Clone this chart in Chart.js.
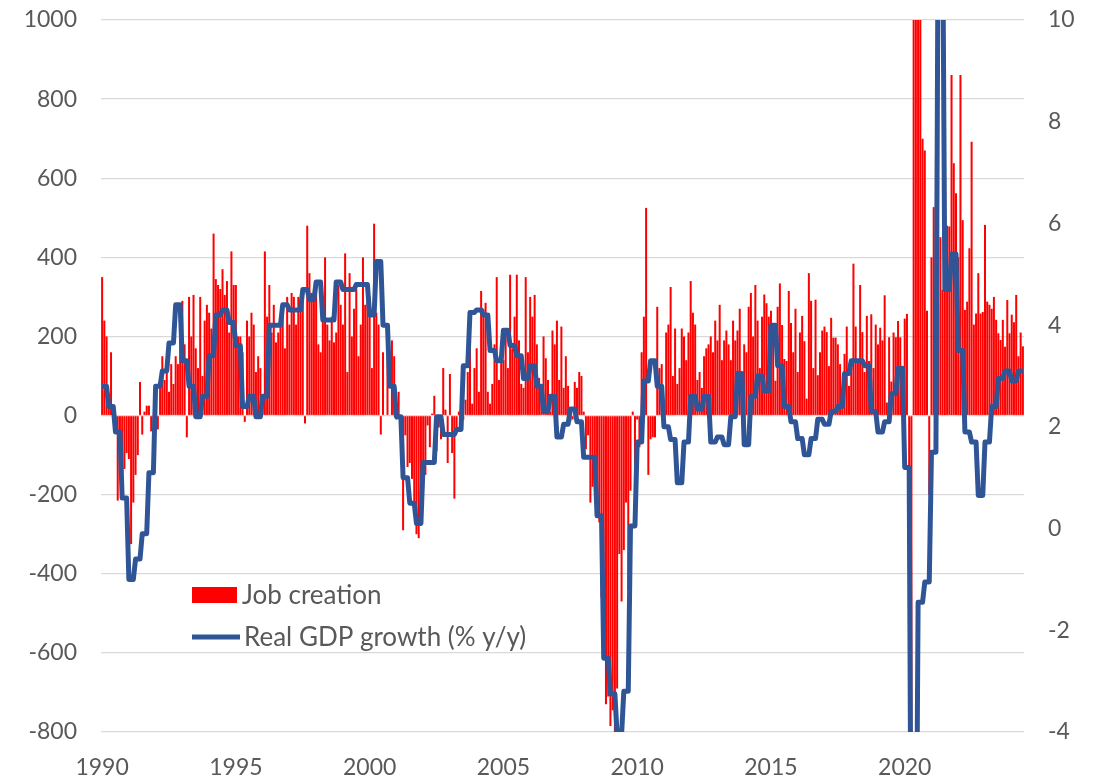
<!DOCTYPE html>
<html>
<head>
<meta charset="utf-8">
<title>Job creation vs real GDP growth</title>
<script src="https://cdn.jsdelivr.net/npm/chart.js@4.4.1/dist/chart.umd.min.js"></script>
<style>
  body { margin: 0; background: #fff; }
  #wrap { width: 1096px; height: 777px; }
</style>
</head>
<body>
<div id="wrap"><canvas id="jobsChart" width="1096" height="777"></canvas></div>
<script>
// *****Data***** //
const startYear = 1990;
const monthCount = 414; // Jan 1990 - Jun 2024

// monthly payroll change, thousands (one row per year)
const jobs1990s = [
    350, 240, 200, 30, 160, 15, -40, -215, -80, -165, -135, -95,
    -110, -325, -220, -150, -100, 85, -48, 10, 25, 25, -40, -30,
    60, -35, 70, 150, 90, 110, 60, 130, 80, 150, 130, 190,
    290, 180, -55, 300, 200, 305, 170, 120, 300, 100, 240, 280,
    260, 220, 460, 345, 330, 320, 370, 305, 340, 210, 415, 330,
    330, 200, 200, 160, -16, 240, 200, 260, 230, 110, 150, 120,
    20, 415, 250, 330, 210, 280, 185, 210, 230, 280, 170, 300,
    230, 310, 300, 230, 300, 280, 310, -20, 480, 360, 310, 310,
    325, 180, 160, 270, 400, 230, 190, 250, 185, 210, 330, 280,
    230, 410, 110, 360, 200, 270, 320, 150, 230, 400, 280, 290
];
const jobs2000s = [
    300, 120, 485, 260, 230, -48, 160, 0, 200, 0, 190, 150,
    -10, 60, -40, -290, -50, -130, -120, -160, -230, -300, -310, -170,
    -130, -150, -25, -80, 5, 50, -90, -30, -60, 120, 15, -120,
    105, -95, -210, -30, 10, 20, -10, 40, 110, 190, 30, 120,
    170, 60, 315, 270, 285, 60, 30, 80, 180, 350, 90, 190,
    140, 210, 120, 356, 170, 250, 356, 190, 80, 70, 350, 160,
    300, 250, 305, 180, 95, 60, 200, 145, 90, 10, 215, 180,
    240, 90, 225, 70, 150, 75, -15, -10, 85, 70, 110, 100,
    10, -85, -50, -220, -180, -170, -210, -270, -460, -490, -730, -710,
    -785, -745, -800, -690, -350, -470, -340, -220, -440, -190, 10, -270
];
const jobs2010s = [
    -10, -80, 160, 250, 525, -150, -60, -55, -55, 275, 120, 130,
    40, 210, 230, 325, 100, 220, 80, 120, 220, 200, 140, 210,
    340, 260, 230, 90, 110, 70, 150, 170, 180, 200, 160, 240,
    190, 280, 140, 190, 215, 180, 140, 240, 190, 215, 270, 60,
    180, 160, 275, 310, 200, 330, 240, 120, 250, 306, 284, 250,
    265, 215, 88, 275, 334, 229, 143, 138, 315, 234, 160, 270,
    110, 210, 252, 188, 43, 360, 290, 120, 293, 102, 160, 215,
    225, 211, 125, 247, 197, 197, 180, 130, 30, 156, 225, 75,
    143, 384, 225, 140, 330, 211, 110, 252, 138, 256, 120, 230,
    180, 222, 190, 304, 33, 198, 86, 210, 198, 239, 198, 120
];
const jobs2020s = [
    245, 257, -1373, -20500, 2700, 4500, 1700, 1500, 700, 670, 265, -200,
    400, 527, 650, 280, 451, 318, 700, 480, 478, 861, 638, 562,
    400, 861, 494, 267, 288, 423, 692, 230, 258, 360, 258, 262,
    482, 288, 280, 270, 300, 242, 208, 191, 242, 174, 292, 208,
    255, 236, 305, 150, 210, 175
];

// real GDP growth, % y/y, quarterly 1990Q1 - 2024Q2
const gdpQuarterly = [
    2.8, 2.4, 1.9, 0.6,     -1.0, -0.6, -0.1, 1.1,
    2.8, 3.1, 3.65, 4.4,    3.3, 2.8, 2.2, 2.6,
    3.4, 4.2, 4.3, 4.05,    3.6, 2.4, 2.6, 2.2,
    2.6, 4.0, 4.0, 4.4,     4.3, 4.3, 4.7, 4.5,
    4.85, 4.1, 4.1, 4.85,   4.7, 4.7, 4.8, 4.8,
    4.2, 5.25, 4.0, 2.8,    2.2, 1.0, 0.5, 0.1,
    1.3, 1.3, 2.2, 1.85,    1.85, 1.95, 3.2, 4.25,
    4.3, 4.2, 3.5, 3.3,     3.9, 3.6, 3.4, 2.95,
    3.2, 2.8, 2.3, 2.6,     1.8, 2.05, 2.35, 2.1,
    1.4, 1.4, 0.25, -2.55,  -3.25, -4.05, -3.2, 0.05,
    1.7, 2.9, 3.3, 2.8,     2.0, 1.75, 0.9, 1.7,
    2.6, 2.35, 2.6, 1.7,    1.8, 1.65, 2.2, 3.05,
    1.65, 2.6, 3.0, 2.7,    4.0, 3.2, 2.4, 2.1,
    1.77, 1.45, 1.77, 2.15, 2.05, 2.3, 2.4, 3.05,
    3.3, 3.3, 3.2, 2.3,     1.9, 2.1, 2.65, 3.15,
    1.2, -8.4, -1.45, -1.05, 1.5, 12.2, 4.7, 5.4,
    3.5, 1.9, 1.7, 0.65,    1.7, 2.4, 2.95, 3.1,
    2.9, 3.1
];

const leftTicks = { min: -800, max: 1000, step: 200 };
const rightTicks = { min: -4, max: 10, step: 2 };

const barColor = '#FF0000';
const lineColor = '#2F5597';
const textColor = '#595959';
const fontFamily = 'Lato, "Open Sans", sans-serif';

// *****Build monthly table***** //
const monthLabels = [];
for (let i = 0; i < monthCount; i++) {
    const y = startYear + Math.floor(i / 12);
    const m = (i % 12) + 1;
    monthLabels.push(y + '-' + (m < 10 ? '0' + m : m));
}
const jobCreation = jobs1990s.concat(jobs2000s, jobs2010s, jobs2020s);
const gdpMonthly = monthLabels.map((_, i) => gdpQuarterly[Math.floor(i / 3)]);

// *****Legend drawn inside the plot***** //
const insideLegend = {
    id: 'insideLegend',
    afterDraw(chart) {
        const c = chart.ctx;
        const a = chart.chartArea;
        const x0 = a.left + 91;
        c.save();
        c.font = '26px ' + fontFamily;
        c.textBaseline = 'middle';
        c.fillStyle = barColor;
        c.fillRect(x0, 587, 45, 16);
        c.fillStyle = textColor;
        c.fillText(chart.data.datasets[0].label, x0 + 50, 596);
        c.strokeStyle = lineColor;
        c.lineWidth = 5;
        c.beginPath();
        c.moveTo(x0, 637);
        c.lineTo(x0 + 48, 637);
        c.stroke();
        c.fillText(chart.data.datasets[1].label, x0 + 52, 638);
        c.restore();
    }
};

// *****Jobs vs GDP Chart***** //
const ctx = document.getElementById('jobsChart');
if (ctx) {
    const jobsChart = new Chart(ctx, {
        type: 'bar',
        data: {
            labels: monthLabels,
            datasets: [{
                type: 'bar',
                label: 'Job creation',
                data: jobCreation,
                backgroundColor: barColor,
                barPercentage: 0.9,
                categoryPercentage: 1,
                yAxisID: 'y',
                order: 2
            }, {
                type: 'line',
                label: 'Real GDP growth (% y/y)',
                data: gdpMonthly,
                borderColor: lineColor,
                backgroundColor: lineColor,
                borderWidth: 5,
                pointRadius: 0,
                tension: 0,
                borderJoinStyle: 'round',
                yAxisID: 'y1',
                order: 1
            }]
        },
        options: {
            responsive: false,
            animation: false,
            layout: { padding: { top: 20, left: 0, right: 0, bottom: 0 } },
            plugins: {
                legend: { display: false },
                tooltip: { enabled: false }
            },
            scales: {
                x: {
                    grid: { display: false, drawTicks: false },
                    border: { display: false },
                    ticks: {
                        autoSkip: false,
                        maxRotation: 0,
                        padding: 22,
                        color: textColor,
                        font: { family: fontFamily, size: 23 },
                        callback: function (value) {
                            const lab = this.getLabelForValue(value);
                            const y = +lab.slice(0, 4);
                            return (lab.slice(5) === '01' && y % 5 === 0) ? String(y) : '';
                        }
                    },
                    afterFit: (s) => { s.height = 45; }
                },
                y: {
                    position: 'left',
                    min: leftTicks.min,
                    max: leftTicks.max,
                    border: { display: false },
                    grid: { color: '#D9D9D9', lineWidth: 1.3, drawTicks: true, tickLength: 24, tickColor: 'rgba(0,0,0,0)' },
                    ticks: {
                        stepSize: leftTicks.step,
                        padding: 0,
                        color: textColor,
                        font: { family: fontFamily, size: 23 },
                        callback: (v) => String(v)
                    },
                    afterFit: (s) => { s.width = 101; }
                },
                y1: {
                    position: 'right',
                    min: rightTicks.min,
                    max: rightTicks.max,
                    border: { display: false },
                    grid: { display: false, drawTicks: true, tickLength: 24 },
                    ticks: {
                        stepSize: rightTicks.step,
                        padding: 0,
                        color: textColor,
                        font: { family: fontFamily, size: 23 },
                        callback: (v) => String(v)
                    },
                    afterFit: (s) => { s.width = 72; }
                }
            }
        },
        plugins: [insideLegend]
    });
}
</script>
</body>
</html>
